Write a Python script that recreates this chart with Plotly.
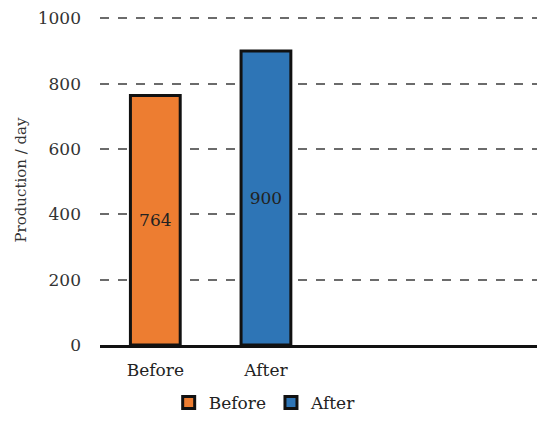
import plotly.graph_objects as go

categories = ["Before", "After"]
values = [764, 900]
colors = ["#ED7D31", "#2E75B6"]
y_ticks = [0, 200, 400, 600, 800, 1000]

FONT = "DejaVu Serif"

fig = go.Figure()
for cat, val, col in zip(categories, values, colors):
    fig.add_trace(go.Bar(
        x=[cat], y=[val], name=cat,
        marker=dict(color=col, line=dict(color="#111111", width=3)),
        width=0.45,
        text=[str(val)], textposition="inside", insidetextanchor="middle",
        textfont=dict(family=FONT, size=17, color="#222222"),
        textangle=0,
    ))

fig.update_layout(
    width=537, height=421,
    margin=dict(l=100, r=0, t=15, b=76),
    plot_bgcolor="white", paper_bgcolor="white",
    barmode="overlay",
    font=dict(family=FONT, size=17, color="#333333"),
    showlegend=True,
    legend=dict(orientation="h", xref="container", yref="container",
                x=(100 + 0.378 * 437) / 537, xanchor="center",
                y=-0.021, yanchor="bottom",
                font=dict(family=FONT, size=17, color="#222222"),
                itemwidth=30, traceorder="normal"),
    xaxis=dict(type="category", categoryorder="array", categoryarray=categories,
               range=[-0.5, 3.45], showgrid=False, showline=True,
               linecolor="#111111", linewidth=3, ticks="",
               ticklabelstandoff=8, automargin=False,
               tickfont=dict(family=FONT, size=17, color="#222222")),
    yaxis=dict(range=[0, 1010], tickvals=y_ticks, showgrid=True,
               gridcolor="#6b6b6b", griddash="dash", gridwidth=2,
               zeroline=False, showline=False, ticks="",
               ticklabelstandoff=18, automargin=False,
               tickfont=dict(family=FONT, size=17, color="#333333"),
               title=dict(text="Production / day", standoff=7,
                          font=dict(family=FONT, size=15, color="#333333"))),
)

fig.write_html("out.html", config={"displayModeBar": False},
               post_script="document.body.style.margin='0';")
